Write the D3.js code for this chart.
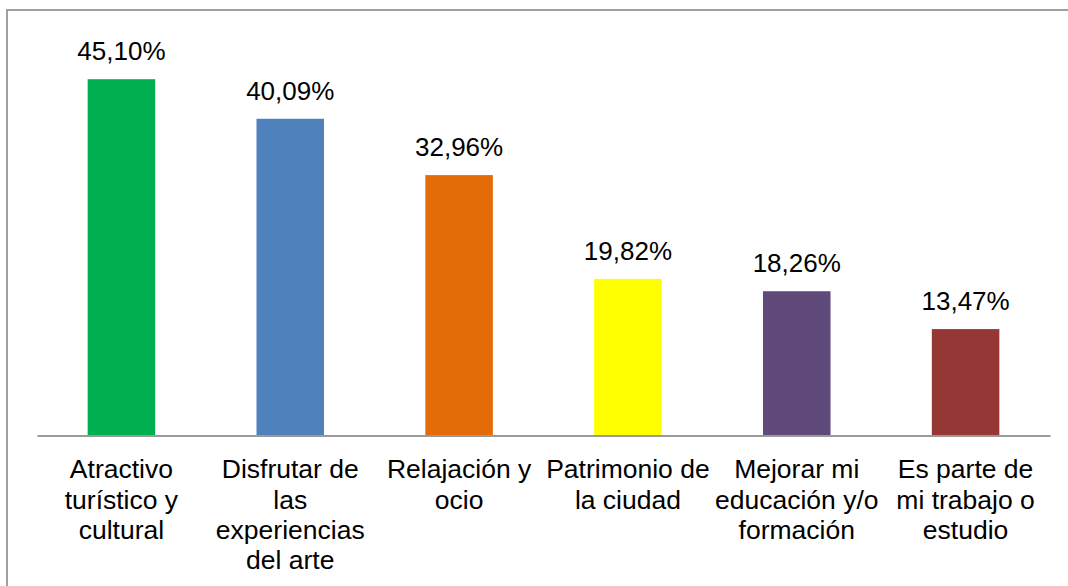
<!DOCTYPE html>
<html><head><meta charset="utf-8">
<script src="https://cdn.jsdelivr.net/npm/d3@7"></script>
<style>html,body{margin:0;padding:0;background:#fff;}svg{display:block;}</style>
</head><body>
<svg id="c" width="1068" height="586"></svg>
<script>
const categories = [
  "Atractivo\nturístico y\ncultural",
  "Disfrutar de\nlas\nexperiencias\ndel arte",
  "Relajación y\nocio",
  "Patrimonio de\nla ciudad",
  "Mejorar mi\neducación y/o\nformación",
  "Es parte de\nmi trabajo o\nestudio"
];
const values = [45.10, 40.09, 32.96, 19.82, 18.26, 13.47];
const valueLabels = ["45,10%", "40,09%", "32,96%", "19,82%", "18,26%", "13,47%"];
const colors = ["#00B050", "#4F81BD", "#E36C09", "#FFFF00", "#604A7B", "#953735"];
const yDomain = [0, 50];

(function () {
const svg = d3.select("#c");
const W = 1068, H = 586;
const pLeft = 37, pRight = 1050, pTop = 40.5, pBase = 435.5;

svg.append("rect").attr("x", 7).attr("y", 10).attr("width", W + 10).attr("height", H + 10)
  .attr("fill", "#fff").attr("stroke", "#A0A0A0").attr("stroke-width", 2);

const x = d3.scaleBand().domain(d3.range(categories.length)).range([pLeft, pRight]).paddingInner(0.6).paddingOuter(0.3);
const y = d3.scaleLinear().domain(yDomain).range([pBase, pTop]);

svg.selectAll("rect.bar").data(values).enter().append("rect").attr("class", "bar")
  .attr("x", (d, i) => x(i)).attr("width", x.bandwidth())
  .attr("y", d => y(d)).attr("height", d => y(0) - y(d))
  .attr("fill", (d, i) => colors[i]);

const font = "'Liberation Sans', Arial, sans-serif";
svg.selectAll("text.val").data(values).enter().append("text").attr("class", "val")
  .attr("x", (d, i) => x(i) + x.bandwidth() / 2).attr("y", d => y(d) - 19)
  .attr("text-anchor", "middle").attr("font-family", font).attr("font-size", 26).attr("fill", "#000")
  .text((d, i) => valueLabels[i]);

const xAxis = d3.axisBottom(x).tickSize(0).tickSizeOuter(0).tickFormat("");
const ax = svg.append("g").attr("transform", `translate(0,${pBase})`).call(xAxis);
ax.select(".domain").attr("stroke", "#9A9A9A").attr("stroke-width", 2);

const g = svg.append("g");
categories.forEach((c, i) => {
  const t = g.append("text").attr("text-anchor", "middle").attr("font-family", font)
    .attr("font-size", 26.5).attr("fill", "#000");
  c.split("\n").forEach((line, j) => {
    t.append("tspan").attr("x", x(i) + x.bandwidth() / 2).attr("y", 478.3 + j * 30.3).text(line);
  });
});
})();
</script>
</body></html>
